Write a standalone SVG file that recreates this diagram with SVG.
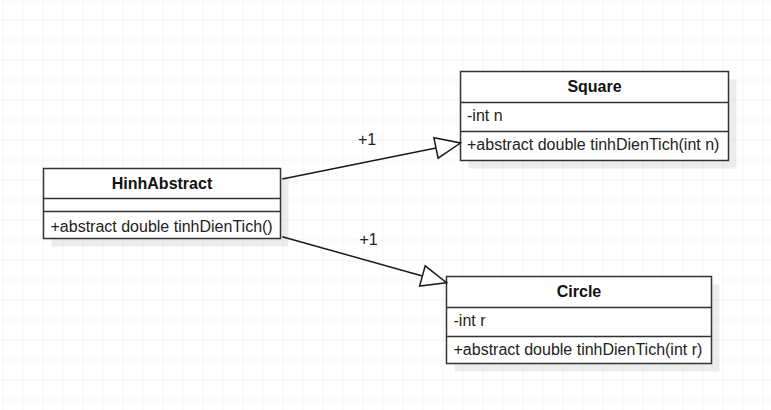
<svg xmlns="http://www.w3.org/2000/svg" width="771" height="410" viewBox="0 0 771 410">
<defs>
<pattern id="grid" x="2.5" y="19.5" width="20" height="20" patternUnits="userSpaceOnUse">
<path d="M0 0 H20 M0 0 V20" fill="none" stroke="#ebebeb" stroke-width="1"/>
</pattern>
<style>
.box{fill:#fff;stroke:#333;stroke-width:1.5}
.shadow{fill:#000;fill-opacity:0.07}
.div{stroke:#333;stroke-width:1.5}
.title{font-family:"Liberation Sans",Arial,sans-serif;font-size:16px;font-weight:bold;fill:#111;text-anchor:middle}
.item{font-family:"Liberation Sans",Arial,sans-serif;font-size:16px;fill:#222}
.edge{fill:none;stroke:#1a1a1a;stroke-width:1.5}
.head{fill:#fff;stroke:#1a1a1a;stroke-width:1.5}
.lbl{font-family:"Liberation Sans",Arial,sans-serif;font-size:16px;fill:#222}
</style>
</defs>
<rect width="771" height="410" fill="#fff"/>
<rect width="771" height="410" fill="url(#grid)"/>

<g id="HinhAbstract">
<rect class="shadow" x="51.5" y="176.5" width="237" height="70"/>
<rect class="box" x="43.5" y="168.5" width="237" height="70"/>
<line class="div" x1="43.5" y1="198.5" x2="280.5" y2="198.5"/>
<line class="div" x1="43.5" y1="211.5" x2="280.5" y2="211.5"/>
<text class="title" x="162" y="188.5">HinhAbstract</text>
<text class="item" x="50.5" y="231.5">+abstract double tinhDienTich()</text>
</g>

<g id="Square">
<rect class="shadow" x="468.5" y="79.5" width="268" height="89"/>
<rect class="box" x="460.5" y="71.5" width="268" height="89"/>
<line class="div" x1="460.5" y1="102.5" x2="728.5" y2="102.5"/>
<line class="div" x1="460.5" y1="131.5" x2="728.5" y2="131.5"/>
<text class="title" x="594.5" y="91.5">Square</text>
<text class="item" x="467" y="121">-int n</text>
<text class="item" x="467" y="150">+abstract double tinhDienTich(int n)</text>
</g>

<g id="Circle">
<rect class="shadow" x="454.5" y="284.5" width="265" height="87"/>
<rect class="box" x="446.5" y="276.5" width="265" height="87"/>
<line class="div" x1="446.5" y1="307.5" x2="711.5" y2="307.5"/>
<line class="div" x1="446.5" y1="336.5" x2="711.5" y2="336.5"/>
<text class="title" x="579" y="296.5">Circle</text>
<text class="item" x="453.5" y="326">-int r</text>
<text class="item" x="453.5" y="355">+abstract double tinhDienTich(int r)</text>
</g>

<g id="connectors">
<line class="edge" x1="282.3" y1="179" x2="436" y2="148"/>
<polygon class="head" points="460.5,143 438.1,158.2 433.9,137.7"/>
<text class="lbl" x="358" y="145">+1</text>
<line class="edge" x1="282.3" y1="236.7" x2="422.4" y2="276"/>
<polygon class="head" points="446.5,282.7 419.6,286.1 425.2,265.8"/>
<text class="lbl" x="359.5" y="244.5">+1</text>
</g>
</svg>
